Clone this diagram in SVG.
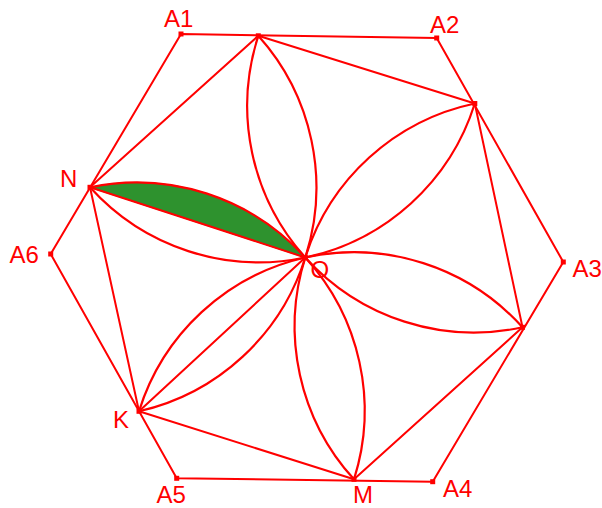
<svg xmlns="http://www.w3.org/2000/svg" width="602" height="508" viewBox="0 0 602 508">
<style>
.ln{fill:none;stroke:#ff0000;stroke-width:2;stroke-linejoin:round;stroke-linecap:round}
.arc{fill:none;stroke:#ff0000;stroke-width:2.2}
.pt{fill:#ff0000}
.lb{font-family:"Liberation Sans",Arial,sans-serif;font-size:24px;fill:#ff0000}
</style>
<rect width="602" height="508" fill="#ffffff"/>
<g id="shaded">
<path d="M90,187.3 A227,227 0 0 1 305.3,257.5 Z" fill="#2e922e" stroke="#1a6e1a" stroke-width="1"/>
</g>
<g id="connectors">
<polygon class="ln" points="181,34 436.7,38 563.3,262 432.7,481.7 176.7,478.3 50.7,254"/>
<polygon class="ln" points="90,187.3 258.3,35.8 474.8,103.5 522.5,327.3 354,479.3 139,411.3"/>
<line class="ln" x1="90" y1="187.3" x2="305.3" y2="257.5"/>
<line class="ln" x1="139" y1="411.3" x2="305.3" y2="257.5"/>
<path class="arc" d="M90,187.3 A227,227 0 0 1 305.3,257.5 M90,187.3 A227,227 0 0 0 305.3,257.5"/>
<path class="arc" d="M258.3,35.8 A227,227 0 0 1 305.3,257.5 M258.3,35.8 A227,227 0 0 0 305.3,257.5"/>
<path class="arc" d="M474.8,103.5 A227,227 0 0 1 305.3,257.5 M474.8,103.5 A227,227 0 0 0 305.3,257.5"/>
<path class="arc" d="M522.5,327.3 A227,227 0 0 1 305.3,257.5 M522.5,327.3 A227,227 0 0 0 305.3,257.5"/>
<path class="arc" d="M354,479.3 A227,227 0 0 1 305.3,257.5 M354,479.3 A227,227 0 0 0 305.3,257.5"/>
<path class="arc" d="M139,411.3 A227,227 0 0 1 305.3,257.5 M139,411.3 A227,227 0 0 0 305.3,257.5"/>
</g>
<g id="A1"><rect class="pt" x="178.5" y="31.5" width="5" height="5"/><text class="lb" x="164" y="27">A1</text></g>
<g id="A2"><rect class="pt" x="434.2" y="35.5" width="5" height="5"/><text class="lb" x="430" y="33">A2</text></g>
<g id="A3"><rect class="pt" x="560.8" y="259.5" width="5" height="5"/><text class="lb" x="572.5" y="277">A3</text></g>
<g id="A4"><rect class="pt" x="430.2" y="479.2" width="5" height="5"/><text class="lb" x="443" y="496.5">A4</text></g>
<g id="A5"><rect class="pt" x="174.2" y="475.8" width="5" height="5"/><text class="lb" x="156.5" y="503">A5</text></g>
<g id="A6"><rect class="pt" x="48.2" y="251.5" width="5" height="5"/><text class="lb" x="9.5" y="263">A6</text></g>
<g id="P1"><rect class="pt" x="255.8" y="33.3" width="5" height="5"/></g>
<g id="P2"><rect class="pt" x="472.3" y="101" width="5" height="5"/></g>
<g id="P3"><rect class="pt" x="520" y="324.8" width="5" height="5"/></g>
<g id="M"><rect class="pt" x="351.5" y="476.8" width="5" height="5"/><text class="lb" x="353" y="503">M</text></g>
<g id="K"><rect class="pt" x="136.5" y="408.8" width="5" height="5"/><text class="lb" x="113" y="428">K</text></g>
<g id="N"><rect class="pt" x="87.5" y="184.8" width="5" height="5"/><text class="lb" x="60" y="186.5">N</text></g>
<g id="O"><rect class="pt" x="302.8" y="255" width="5" height="5"/><text class="lb" x="310.5" y="278">O</text></g>
</svg>
